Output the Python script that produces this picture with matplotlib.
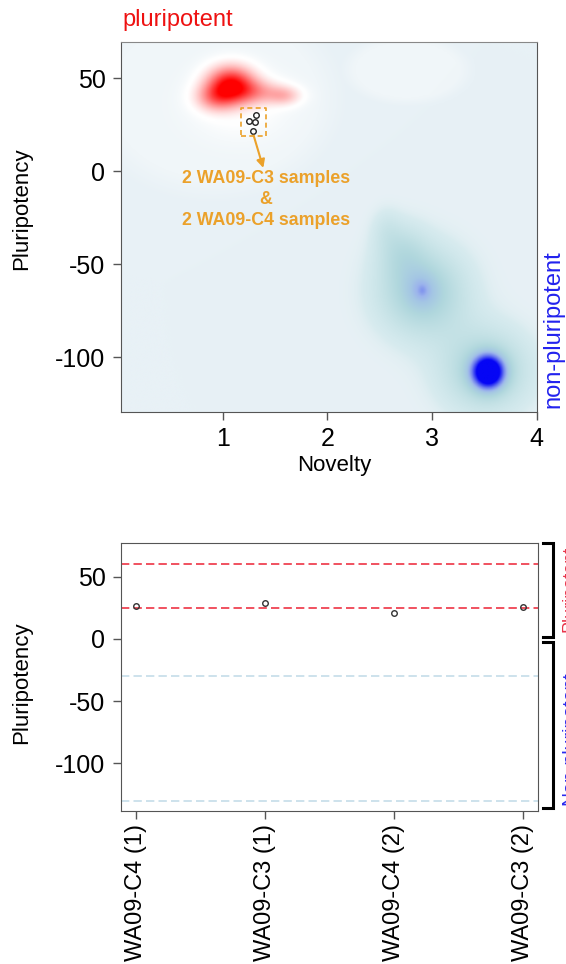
import numpy as np
import matplotlib
matplotlib.use("Agg")
import matplotlib.pyplot as plt
from matplotlib.colors import LinearSegmentedColormap, to_rgb

plt.rcParams['font.family'] = ['Liberation Sans', 'DejaVu Sans']
plt.rcParams['axes.unicode_minus'] = False

# --- top panel: samples on the novelty / pluripotency map ---
sample_novelty = [1.315, 1.251, 1.311, 1.292]
sample_pluri = [30.4, 26.8, 26.4, 21.7]

# reference density blobs (centre x, centre y, sd x, sd y, weight)
red_cx = [1.07, 0.93, 1.3, 1.58, 1.15]
red_cy = [47, 40, 43, 41, 36]
red_sx = [0.15, 0.13, 0.17, 0.11, 0.3]
red_sy = [6.5, 5, 4.5, 3.5, 12]
red_w = [1.0, 0.45, 0.35, 0.3, 0.08]

blue_cx = [2.9, 2.7, 2.55, 2.9, 2.9, 3.53, 3.5]
blue_cy = [-65, -42, -30, -64, -64, -108, -107]
blue_sx = [0.3, 0.17, 0.1, 0.1, 0.025, 0.11, 0.3]
blue_sy = [17, 11, 8, 6.5, 1.8, 6.5, 16]
blue_w = [0.48, 0.2, 0.1, 0.14, 0.06, 1.0, 0.42]

light_cx = [0.9, 2.75]
light_cy = [40, 55]
light_sx = [0.9, 0.45]
light_sy = [40, 14]

# --- bottom panel ---
samples = ['WA09-C4 (1)', 'WA09-C3 (1)', 'WA09-C4 (2)', 'WA09-C3 (2)']
pluri_scores = [26.5, 29, 21, 25.5]
pluri_band = [25, 60]
nonpluri_band = [-30, -130]

xlim_top = (0.026, 4.0)
ylim_top = (-129.4, 69.7)


def field(X, Y, cx, cy, sx, sy, w):
    z = np.zeros_like(X)
    for a, b, c, d, e in zip(cx, cy, sx, sy, w):
        z += e * np.exp(-0.5 * ((X - a) / c) ** 2 - 0.5 * ((Y - b) / d) ** 2)
    return z


fig = plt.figure(figsize=(5.66, 9.64), dpi=100)

ax = fig.add_axes([0.2133, 0.5729, 0.7350, 0.3838])
xs = np.linspace(*xlim_top, 500)
ys = np.linspace(*ylim_top, 500)
X, Y = np.meshgrid(xs, ys)

base = np.array(to_rgb('#e8f1f6'))
lighter = np.array(to_rgb('#f0f6f9'))
img = np.ones(X.shape + (3,)) * base

g = np.maximum.reduce([field(X, Y, [a], [b], [c], [d], [1.0])
                       for a, b, c, d in zip(light_cx, light_cy, light_sx, light_sy)])
wl = np.clip((g - 0.35) * 5, 0, 1)[..., None]
img = img * (1 - wl) + lighter * wl

p = field(X, Y, red_cx, red_cy, red_sx, red_sy, red_w)
h = np.clip(p / 0.06, 0, 1)[..., None]
img = img * (1 - h) + h
r = np.clip((p - 0.08) / 1.0, 0, 1)[..., None]
img = img * (1 - r) + np.array([1.0, 0.0, 0.0]) * r

n = np.clip(field(X, Y, blue_cx, blue_cy, blue_sx, blue_sy, blue_w), 0, 1)
bcmap = LinearSegmentedColormap.from_list(
    'nonpluri', [(0.0, '#e4f0f3'), (0.1, '#d5eaee'), (0.25, '#c3e1e5'),
                 (0.4, '#b0d7dd'), (0.55, '#a4c6e4'), (0.62, '#9cb4ec'),
                 (0.75, '#6f80ee'), (1.0, '#0505f5')])
a = np.clip(n / 0.08, 0, 1)[..., None]
img = img * (1 - a) + bcmap(n)[..., :3] * a

ax.imshow(img, extent=[*xlim_top, *ylim_top], origin='lower', aspect='auto',
          interpolation='bilinear')
ax.plot(sample_novelty, sample_pluri, 'o', ms=4, mfc='none', mec='#222222', mew=1)

# dashed box + arrow + note
bx0, bx1 = min(sample_novelty) - 0.08, max(sample_novelty) + 0.1
by0, by1 = min(sample_pluri) - 2.5, max(sample_pluri) + 3.7
orange = '#eba12a'
ax.plot([bx0, bx1, bx1, bx0, bx0], [by0, by0, by1, by1, by0], ls=(0, (3, 2)),
        color=orange, lw=1.2)
ax.annotate('', xy=(1.388, 1.8), xytext=(1.296, by0),
            arrowprops=dict(arrowstyle='-|>', color=orange, lw=1.5,
                            mutation_scale=12, shrinkA=0, shrinkB=0))
ax.text(1.41, -15.2, '2 WA09-C3 samples\n&\n2 WA09-C4 samples', color=orange,
        fontsize=12.8, fontweight='bold', ha='center', va='center',
        multialignment='center', linespacing=1.3)

ax.set_xlim(*xlim_top)
ax.set_ylim(*ylim_top)
ax.set_xticks([1, 2, 3, 4])
ax.set_yticks([50, 0, -50, -100])
ax.set_xlabel('Novelty', fontsize=16)
ax.set_ylabel('Pluripotency', fontsize=16)
ax.xaxis.set_label_coords(0.514, -0.117)
ax.yaxis.set_label_coords(-0.213, 0.55)
ax.tick_params(labelsize=18, length=6, width=1, color='#555555', pad=5)
for s in ax.spines.values():
    s.set_color('#555555')
ax.spines['top'].set_color('#888888')

fig.text(122.7 / 566, 1 - 20 / 964, 'pluripotent', color='#ee1111', fontsize=17,
         ha='left', va='center')
fig.text(553 / 566, 1 - 329 / 964, 'non-pluripotent', color='#2222ee',
         fontsize=17, rotation=90, ha='center', va='center')

# --- bottom panel ---
ax2 = fig.add_axes([0.2133, 0.1587, 0.7378, 0.2783])
pos = np.arange(1, len(samples) + 1)
for v in pluri_band:
    ax2.axhline(v, color='#ee3344', ls=(0, (5, 2.5)), lw=1.2)
for v in nonpluri_band:
    ax2.axhline(v, color='#c5dde9', ls=(0, (5, 2.5)), lw=1.2)
ax2.plot(pos, pluri_scores, 'o', ms=4, mfc='none', mec='#333333', mew=1)
ax2.set_xlim(0.88, 4.12)
ax2.set_ylim(-138.3, 77.3)
ax2.set_xticks(pos)
ax2.set_xticklabels(samples, rotation=90, fontsize=17)
ax2.set_yticks([50, 0, -50, -100])
ax2.tick_params(axis='y', labelsize=18)
ax2.tick_params(length=6, width=1, color='#555555', pad=5)
ax2.tick_params(axis='x', pad=3)
ax2.set_ylabel('Pluripotency', fontsize=16)
ax2.yaxis.set_label_coords(-0.213, 0.479)
for s in ax2.spines.values():
    s.set_color('#555555')

# brackets at the right of the bottom panel (labels run off the edge as in the source)
tr = ax2.get_yaxis_transform()
for top, bot in [(77.3, 1.8), (-2.2, -136)]:
    ax2.plot([1.0113, 1.0352, 1.0352, 1.0113], [top, top, bot, bot],
             color='black', lw=2.2, transform=tr, clip_on=False,
             solid_joinstyle='miter')
ax2.text(1.0544, 40, 'Pluripotent', color='#e8344a', fontsize=13, rotation=90,
         ha='left', va='center', transform=tr, clip_on=False)
ax2.text(1.0544, -80, 'Non-pluripotent', color='#2a2aee', fontsize=14,
         rotation=90, ha='left', va='center', transform=tr, clip_on=False)

fig.savefig('out.png', dpi=100)
